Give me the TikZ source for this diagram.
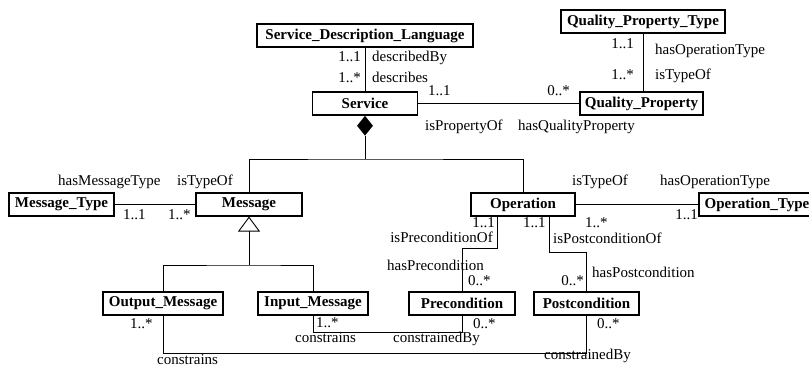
\documentclass[tikz,border=0pt]{standalone}
\usepackage{fontspec}
\setmainfont{Liberation Serif}
\usetikzlibrary{shapes.geometric,arrows.meta}

\begin{document}
\begin{tikzpicture}[x=1bp, y=-1bp,
    every node/.style={font=\fontsize{15bp}{18bp}\selectfont},
    cls/.style={draw, line width=1.1bp, font=\fontsize{15bp}{18bp}\selectfont\bfseries, minimum height=23bp, inner sep=0pt},
    role/.style={inner sep=0pt, text height=10bp, text depth=3bp},
    assoc/.style={line width=0.9bp}]

    \clip (0,0) rectangle (809,367);

    % Nodes
    \node[cls, minimum width=216bp] (sdl) at (365,35.5) {Service\_Description\_Language};
    \node[cls, minimum width=105bp] (service) at (365,103.5) {Service};
    \node[cls, minimum width=164bp] (qpt) at (643,21.5) {Quality\_Property\_Type};
    \node[cls, minimum width=123bp] (qp) at (641.5,103.5) {Quality\_Property};
    \node[cls, minimum width=105bp] (mtype) at (61.5,204.5) {Message\_Type};
    \node[cls, minimum width=106bp] (msg) at (249,204.5) {Message};
    \node[cls, minimum width=104bp] (op) at (523,204.5) {Operation};
    \node[cls, minimum width=116bp] (otype) at (757,204.5) {Operation\_Type};
    \node[cls, minimum width=120bp] (outmsg) at (163,303.5) {Output\_Message};
    \node[cls, minimum width=110bp] (inmsg) at (313,303.5) {Input\_Message};
    \node[cls, minimum width=106bp] (pre) at (462,303.5) {Precondition};
    \node[cls, minimum width=105bp] (post) at (586.5,303.5) {Postcondition};

    % Connectors
    \draw[assoc] (sdl) -- (service);
    \draw[assoc] (service) -- (qp);
    \draw[assoc] (qpt) -- (qpt |- qp.north);
    \node[diamond, fill, inner sep=0pt, minimum width=16bp, minimum height=20bp, anchor=north] (comp) at (service.south) {};
    \coordinate (agg) at (365,159);
    \draw[assoc] (comp) -- (agg);
    \draw[assoc] (msg.north) |- (agg) -| (op.north);
    \draw[assoc] (mtype) -- (msg);
    \coordinate (gen) at (249,265);
    \draw[assoc, -{Triangle[open, length=15bp, width=22bp]}] (gen) -- (msg.south);
    \draw[assoc] (outmsg.north) |- (gen) -| (inmsg.north);
    \draw[assoc] (op) -- (otype);
    \draw[assoc] ([xshift=-26bp]op.south) -- ++(0,32) -| (pre.north);
    \draw[assoc] ([xshift=26bp]op.south) -- ++(0,36) -| (post.north);
    \draw[assoc] (outmsg.south) -- ++(0,38) -| (post.south);
    \draw[assoc] (inmsg.south) -- ++(0,17) -| (pre.south);

    % Roles and multiplicities
    \node[role, anchor=east] (sdlm) at (361,58) {1..1};
    \node[role, anchor=west] (sdlr) at (372,58) {describedBy};
    \node[role, anchor=east] (svm) at (361,79) {1..*};
    \node[role, anchor=west] (svr) at (372,79) {describes};
    \node[role, anchor=west] (svqm) at (428,92) {1..1};
    \node[role, anchor=east] (qpm) at (570,92) {0..*};
    \node[role, anchor=west] (svqr) at (425,127) {isPropertyOf};
    \node[role, anchor=west] (qpr) at (518,127) {hasQualityProperty};
    \node[role, anchor=east] (qptm) at (634,45) {1..1};
    \node[role, anchor=west] (qptr) at (655,51) {hasOperationType};
    \node[role, anchor=east] (qpqm) at (634,76) {1..*};
    \node[role, anchor=west] (qpqr) at (655,76) {isTypeOf};
    \node[role, anchor=west] (mtr) at (58,182) {hasMessageType};
    \node[role, anchor=west] (msgr) at (177,182) {isTypeOf};
    \node[role, anchor=west] (mtm) at (123,216) {1..1};
    \node[role, anchor=west] (msgm) at (168,216) {1..*};
    \node[role, anchor=west] (opr) at (572,182) {isTypeOf};
    \node[role, anchor=west] (otr) at (660,182) {hasOperationType};
    \node[role, anchor=west] (opm) at (585,224) {1..*};
    \node[role, anchor=east] (otm) at (698,216) {1..1};
    \node[role, anchor=east] (oppm) at (495,224) {1..1};
    \node[role, anchor=east] (oppr) at (493,239) {isPreconditionOf};
    \node[role, anchor=west] (opqm) at (523,224) {1..1};
    \node[role, anchor=west] (opqr) at (553,240) {isPostconditionOf};
    \node[role, anchor=west] (prer) at (387,267) {hasPrecondition};
    \node[role, anchor=west] (prem) at (468,282) {0..*};
    \node[role, anchor=east] (postm) at (584,282) {0..*};
    \node[role, anchor=west] (postr) at (592,274) {hasPostcondition};
    \node[role, anchor=west] (omm) at (130,325) {1..*};
    \node[role, anchor=west] (omr) at (157,361) {constrains};
    \node[role, anchor=west] (imm) at (316,324) {1..*};
    \node[role, anchor=west] (imr) at (295,339) {constrains};
    \node[role, anchor=west] (precm) at (473,325) {0..*};
    \node[role, anchor=west] (precr) at (393,339) {constrainedBy};
    \node[role, anchor=west] (postcm) at (597,325) {0..*};
    \node[role, anchor=west] (postcr) at (544,356) {constrainedBy};

\end{tikzpicture}
\end{document}
